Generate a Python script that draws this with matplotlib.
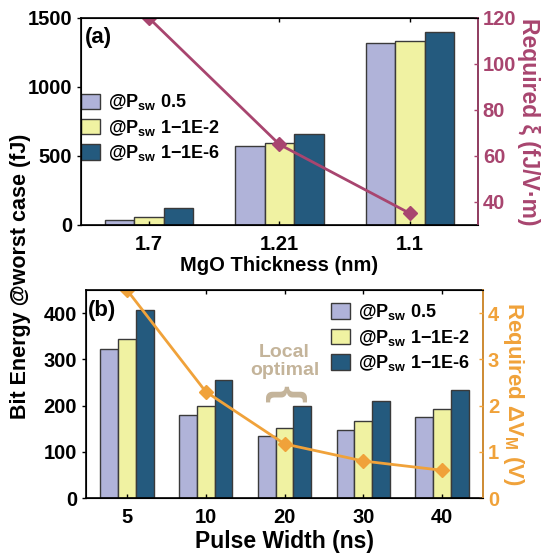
import matplotlib.pyplot as plt
import numpy as np

plt.rcParams['font.family'] = ['Liberation Sans', 'DejaVu Sans']
plt.rcParams['font.weight'] = 'bold'
plt.rcParams['axes.labelweight'] = 'bold'
plt.rcParams['mathtext.fontset'] = 'custom'
plt.rcParams['mathtext.rm'] = 'Liberation Sans:bold'
plt.rcParams['mathtext.it'] = 'Liberation Sans:bold'
plt.rcParams['mathtext.bf'] = 'Liberation Sans:bold'

# DATA : (a) MgO thickness sweep
mgo_labels = ["1.7", "1.21", "1.1"]
mgo_p05 = [35, 575, 1315]
mgo_p1e2 = [55, 595, 1335]
mgo_p1e6 = [120, 660, 1395]
mgo_xi = [120, 65, 35]   # required xi (fJ/V.m)

# DATA : (b) pulse width sweep
pw_labels = ["5", "10", "20", "30", "40"]
pw_p05 = [322, 180, 135, 147, 175]
pw_p1e2 = [343, 200, 152, 167, 192]
pw_p1e6 = [407, 255, 200, 210, 234]
pw_dvm = [4.5, 2.3, 1.17, 0.8, 0.6]   # required delta V_M (V)

legend_labels = [r'@P$_{\mathrm{sw}}$ 0.5', r'@P$_{\mathrm{sw}}$ 1$-$1E-2', r'@P$_{\mathrm{sw}}$ 1$-$1E-6']

c_lav = '#b0b3d9'
c_yel = '#f0f2a2'
c_blu = '#245a7e'
c_edge = '#3a3a3a'
c_xi = '#a8456f'
c_dv = '#f0a23a'
c_note = '#c4b49a'

fig = plt.figure(figsize=(5.42, 5.58), dpi=100)
ax1 = fig.add_axes([0.1494, 0.5968, 0.7325, 0.371])
ax2 = fig.add_axes([0.1587, 0.1075, 0.7325, 0.3728])

w = 0.225


def bars(ax, labels, a, b, c):
    x = np.arange(len(labels))
    ax.bar(x - w, a, w, color=c_lav, edgecolor=c_edge, lw=1, label=legend_labels[0])
    ax.bar(x, b, w, color=c_yel, edgecolor=c_edge, lw=1, label=legend_labels[1])
    ax.bar(x + w, c, w, color=c_blu, edgecolor=c_edge, lw=1, label=legend_labels[2])
    ax.set_xticks(x)
    ax.set_xticklabels(labels)
    ax.set_xlim(-0.52, len(labels) - 0.48)
    ax.tick_params(axis='both', labelsize=14.5, direction='in', length=3, width=1, top=True)
    ax.tick_params(axis='x', pad=7)
    ax.tick_params(axis='y', direction='out')
    for s in ax.spines.values():
        s.set_linewidth(1.2)
    return x


# (a)
x1 = bars(ax1, mgo_labels, mgo_p05, mgo_p1e2, mgo_p1e6)
ax1.set_ylim(0, 1500)
ax1.set_yticks([0, 500, 1000, 1500])
ax1.set_xlabel("MgO Thickness (nm)", fontsize=14.5, labelpad=2)
ax1.text(0.01, 0.955, "(a)", transform=ax1.transAxes, fontsize=16, va='top', ha='left')
ax1.legend(loc='upper left', bbox_to_anchor=(0.0, 0.64), frameon=False, fontsize=13,
           borderpad=0, borderaxespad=0, handlelength=1.05, handleheight=0.95,
           handletextpad=0.45, labelspacing=0.3)
ax1r = ax1.twinx()
ax1r.plot(x1, mgo_xi, color=c_xi, lw=2, marker='D', ms=7)
ax1r.set_ylim(30, 120)
ax1r.set_yticks([40, 60, 80, 100, 120])
ax1r.tick_params(axis='y', colors=c_xi, labelsize=14.5, direction='in', length=3, width=1)
ax1r.spines['right'].set_color(c_xi)
ax1r.spines['right'].set_linewidth(1.2)
ax1r.set_ylabel("Required ξ (fJ/V·m)", color=c_xi, fontsize=16.5, rotation=270, labelpad=17)

# (b)
x2 = bars(ax2, pw_labels, pw_p05, pw_p1e2, pw_p1e6)
ax2.set_ylim(0, 450)
ax2.set_yticks([0, 100, 200, 300, 400])
ax2.set_xlabel("Pulse Width (ns)", fontsize=16.5, labelpad=2)
ax2.text(0.005, 0.95, "(b)", transform=ax2.transAxes, fontsize=16, va='top', ha='left')
ax2.legend(loc='upper left', bbox_to_anchor=(0.617, 0.94), frameon=False, fontsize=13,
           borderpad=0, borderaxespad=0, handlelength=1.05, handleheight=0.95,
           handletextpad=0.45, labelspacing=0.3)
ax2.text(2, 296, "Local\noptimal", color=c_note, fontsize=14, ha='center', va='center',
         linespacing=1.05)
ax2.text(2, 226, "{", color=c_note, fontsize=32, ha='center', va='center', rotation=-90)
ax2r = ax2.twinx()
ax2r.plot(x2, pw_dvm, color=c_dv, lw=2, marker='D', ms=7)
ax2r.set_ylim(0, 4.5)
ax2r.set_yticks([0, 1, 2, 3, 4])
ax2r.tick_params(axis='y', colors=c_dv, labelsize=14.5, direction='in', length=3, width=1)
ax2r.spines['right'].set_color(c_dv)
ax2r.spines['right'].set_linewidth(1.2)
ax2r.set_ylabel("Required ΔV$_{\\mathrm{M}}$ (V)", color=c_dv, fontsize=16, rotation=270, labelpad=19)

fig.text(0.037, 0.505, "Bit Energy @worst case (fJ)", rotation=90, fontsize=15.5,
         ha='center', va='center')

plt.savefig("out.png", dpi=100)
